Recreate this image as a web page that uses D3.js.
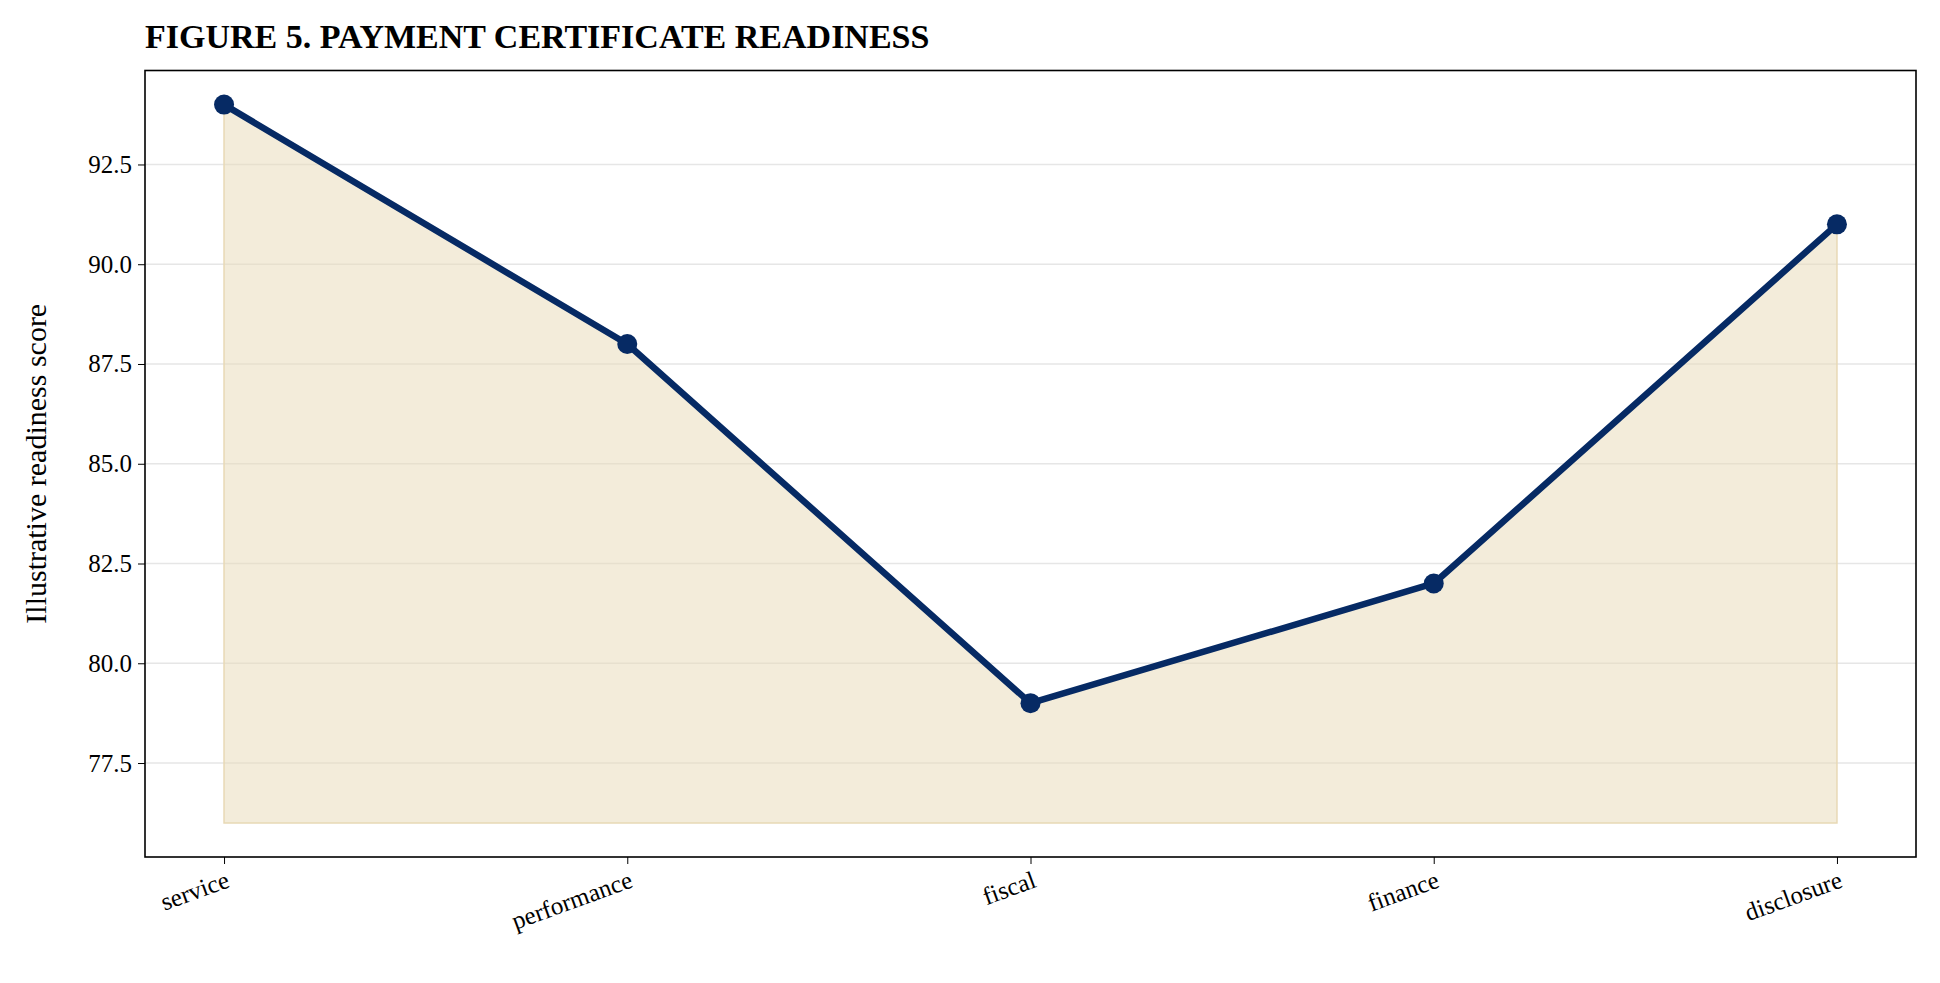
<!DOCTYPE html>
<html lang="en">
<head>
<meta charset="utf-8">
<title>Payment certificate readiness</title>
<style>
	html, body { margin: 0; background: #fff; }
	svg { display: block; font-family: 'Liberation Serif', 'DejaVu Serif', serif; }
</style>
</head>
<body>
<script src="https://cdn.jsdelivr.net/npm/d3@7"></script>
<script>
const categories = ['service', 'performance', 'fiscal', 'finance', 'disclosure']
const scores = [94, 88, 79, 82, 91]
const yTicks = [77.5, 80.0, 82.5, 85.0, 87.5, 90.0, 92.5]
const fillBase = 76

const W = 1940, H = 983
const m = { left: 145, right: 1916, top: 70.5, bottom: 857 }
const lineColor = '#062a64'

const svg = d3.select('body').append('svg')
	.attr('width', W).attr('height', H)

const x = d3.scalePoint()
	.domain(categories)
	.range([m.left, m.right])
	.padding(0.196)

const y = d3.scaleLinear()
	.domain([75.145, 94.855])
	.range([m.bottom, m.top])

// grid
svg.append('g').selectAll('line')
	.data(yTicks)
	.join('line')
	.attr('x1', m.left).attr('x2', m.right)
	.attr('y1', d => y(d)).attr('y2', d => y(d))
	.attr('stroke', '#e6e6e6').attr('stroke-width', 1.5)

const data = categories.map((c, i) => ({ c, v: scores[i] }))

svg.append('path')
	.datum(data)
	.attr('d', d3.area().x(d => x(d.c)).y0(y(fillBase)).y1(d => y(d.v)))
	.attr('fill', '#e8d9b5').attr('fill-opacity', 0.5)
	.attr('stroke', '#e8d9b5').attr('stroke-width', 1.5)

svg.append('path')
	.datum(data)
	.attr('d', d3.line().x(d => x(d.c)).y(d => y(d.v)))
	.attr('fill', 'none')
	.attr('stroke', lineColor).attr('stroke-width', 6.5)
	.attr('stroke-linejoin', 'round')

svg.append('g').selectAll('circle')
	.data(data)
	.join('circle')
	.attr('cx', d => x(d.c)).attr('cy', d => y(d.v))
	.attr('r', 10).attr('fill', lineColor)

// frame
svg.append('rect')
	.attr('x', m.left).attr('y', m.top)
	.attr('width', m.right - m.left).attr('height', m.bottom - m.top)
	.attr('fill', 'none').attr('stroke', '#000').attr('stroke-width', 1.6)

// y axis
const ya = svg.append('g').attr('transform', `translate(${m.left},0)`)
	.call(d3.axisLeft(y).tickValues(yTicks).tickFormat(d3.format('.1f')).tickSize(7).tickPadding(6))
ya.select('.domain').remove()
ya.selectAll('text').attr('font-size', 25).attr('font-family', 'Liberation Serif').attr('fill', '#000')

// x axis
const xa = svg.append('g').attr('transform', `translate(0,${m.bottom})`)
	.call(d3.axisBottom(x).tickSize(7))
xa.select('.domain').remove()
xa.selectAll('text')
	.attr('font-size', 25).attr('font-family', 'Liberation Serif').attr('fill', '#000')
	.attr('text-anchor', 'end')
	.attr('x', 0).attr('y', 0)
	.attr('dy', '0.75em')
	.attr('transform', 'translate(0,12) rotate(-20)')

svg.append('text')
	.attr('transform', `translate(46,${(m.top + m.bottom) / 2}) rotate(-90)`)
	.attr('text-anchor', 'middle')
	.attr('font-size', 30)
	.text('Illustrative readiness score')

svg.append('text')
	.attr('x', m.left).attr('y', 48)
	.attr('font-size', 34).attr('font-weight', 'bold')
	.text('FIGURE 5. PAYMENT CERTIFICATE READINESS')
</script>
</body>
</html>
